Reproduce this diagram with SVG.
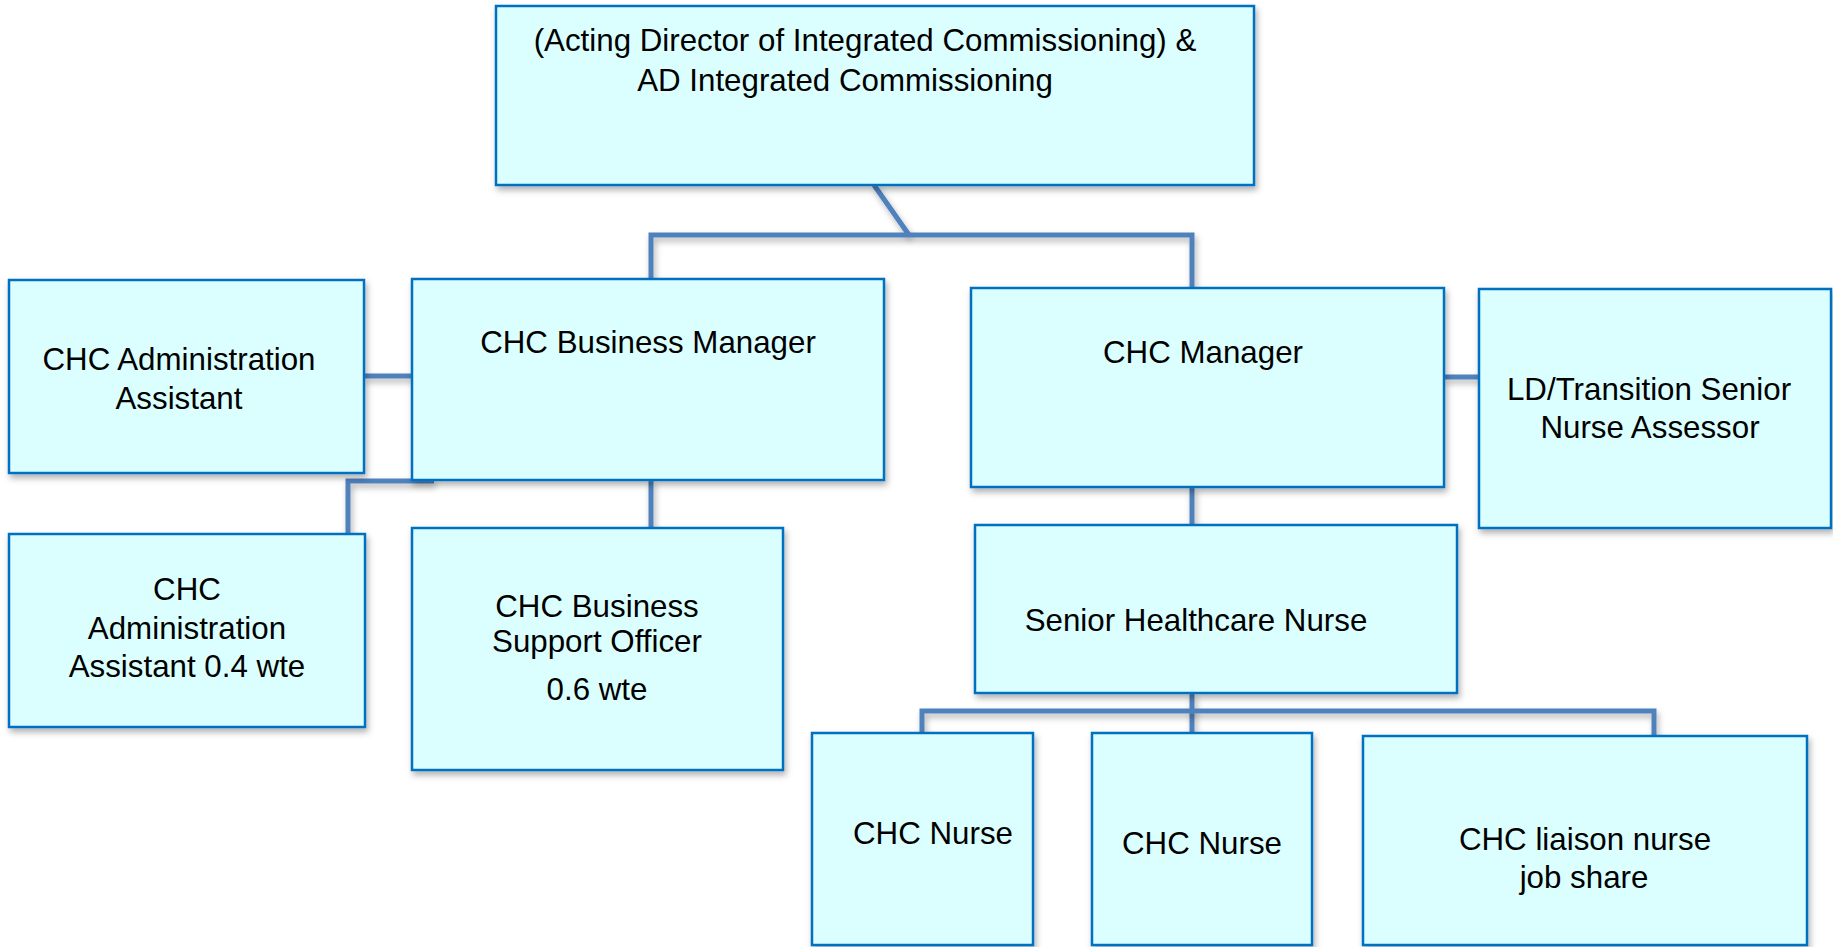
<svg xmlns="http://www.w3.org/2000/svg" width="1833" height="947" viewBox="0 0 1833 947">
<defs>
<filter id="sh" filterUnits="userSpaceOnUse" x="0" y="0" width="1833" height="947">
<feDropShadow dx="2" dy="4" stdDeviation="3" flood-color="#000" flood-opacity="0.3"/>
</filter>
<style>
.box{fill:#DBFFFF;stroke:#0070C0;stroke-width:2.5;filter:url(#sh);}
.lbl{font-family:"Liberation Sans",Arial,sans-serif;font-size:31.3px;fill:#000;text-anchor:middle;}
.con{fill:none;stroke:#4F81BD;stroke-width:5;filter:url(#sh);}
</style>
</defs>
<rect width="1833" height="947" fill="#fff"/>
<g id="connectors">
<path class="con" d="M874,185 L909,235"/>
<path class="con" d="M651,279 L651,235 L1192,235 L1192,288"/>
<path class="con" d="M364,376 L412,376"/>
<path class="con" d="M434,481 L348,481 L348,534"/>
<path class="con" d="M651,480 L651,528"/>
<path class="con" d="M1444,377 L1479,377"/>
<path class="con" d="M1192,487 L1192,525"/>
<path class="con" d="M1192,693 L1192,733"/>
<path class="con" d="M922,733 L922,711 L1654,711 L1654,736"/>
</g>
<g id="n-director">
<rect class="box" x="496" y="6" width="758" height="179"/>
<text class="lbl" x="865" y="51">(Acting Director of Integrated Commissioning) &amp;</text>
<text class="lbl" x="845" y="91">AD Integrated Commissioning</text>
</g>
<g id="n-admin-assistant">
<rect class="box" x="9" y="280" width="355" height="193"/>
<text class="lbl" x="179" y="370">CHC Administration</text>
<text class="lbl" x="179" y="409">Assistant</text>
</g>
<g id="n-business-manager">
<rect class="box" x="412" y="279" width="472" height="201"/>
<text class="lbl" x="648" y="353">CHC Business Manager</text>
</g>
<g id="n-chc-manager">
<rect class="box" x="971" y="288" width="473" height="199"/>
<text class="lbl" x="1203" y="363">CHC Manager</text>
</g>
<g id="n-ld-transition">
<rect class="box" x="1479" y="289" width="352" height="239"/>
<text class="lbl" x="1649" y="400">LD/Transition Senior</text>
<text class="lbl" x="1650" y="438">Nurse Assessor</text>
</g>
<g id="n-admin-04">
<rect class="box" x="9" y="534" width="356" height="193"/>
<text class="lbl" x="187" y="600">CHC</text>
<text class="lbl" x="187" y="639">Administration</text>
<text class="lbl" x="187" y="677">Assistant 0.4 wte</text>
</g>
<g id="n-business-support">
<rect class="box" x="412" y="528" width="371" height="242"/>
<text class="lbl" x="597" y="617">CHC Business</text>
<text class="lbl" x="597" y="652">Support Officer</text>
<text class="lbl" x="597" y="700">0.6 wte</text>
</g>
<g id="n-senior-nurse">
<rect class="box" x="975" y="525" width="482" height="168"/>
<text class="lbl" x="1196" y="631">Senior Healthcare Nurse</text>
</g>
<g id="n-nurse-1">
<rect class="box" x="812" y="733" width="221" height="212"/>
<text class="lbl" x="933" y="844">CHC Nurse</text>
</g>
<g id="n-nurse-2">
<rect class="box" x="1092" y="733" width="220" height="212"/>
<text class="lbl" x="1202" y="854">CHC Nurse</text>
</g>
<g id="n-liaison">
<rect class="box" x="1363" y="736" width="444" height="209"/>
<text class="lbl" x="1585" y="850">CHC liaison nurse</text>
<text class="lbl" x="1584" y="888">job share</text>
</g>
</svg>
